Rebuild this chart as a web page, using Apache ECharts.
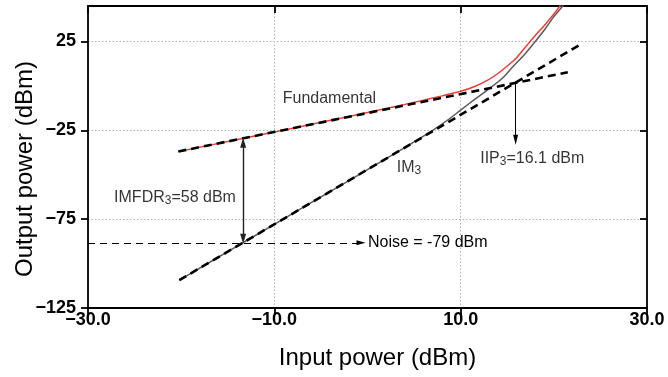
<!DOCTYPE html>
<html><head><meta charset="utf-8">
<script src="https://cdn.jsdelivr.net/npm/echarts@6/dist/echarts.min.js"></script>
<style>html,body{margin:0;padding:0;background:#fff}#c{width:668px;height:377px}</style>
</head><body><div id="c"></div>
<script>
// ---- data ----
const xTicks = [-30, -10, 10, 30];
const yTicks = [-125, -75, -25, 25];
const fundX = [-20.3, -15, -10, -5, 0, 3, 6, 8, 10, 11.5, 13, 14, 15, 16, 17, 18, 19, 20, 21];
const fundY = [-36.9, -31.3, -25.9, -20.5, -15.0, -11.6, -8.0, -5.6, -3.0, -0.3, 3.6, 7.0, 11.2, 15.9, 22.2, 28.4, 34.2, 40.5, 47.5];
const im3X = [-20.2, -15, -10, -5, 0, 3, 5, 7, 8.5, 10, 11.5, 13, 14.5, 15.6, 17, 18, 19, 20, 21, 21.5];
const im3Y = [-109.3, -93.3, -77.9, -62.5, -47.1, -37.8, -31.5, -25.0, -19.6, -13.6, -7.6, -1.8, 4.5, 10.8, 18.6, 25.0, 31.6, 39.0, 45.3, 49.0];
const fundFitX = [-20.3, 21.5];
const fundFitY = [-36.9, 7.7];
const im3FitX = [-20.2, 23.0];
const im3FitY = [-109.3, 23.8];
const noiseLevel = -88.3;
const noiseLineX = [-30, -0.7];
const noiseText = 'Noise = -79 dBm';
const imfdrX = -13.35;
const imfdrY = [-32.0, -86.0];
const iip3X = 15.9;
const iip3Y = [1.7, -30.3];
const annX = [-9.1, 3.15, 12.1, -27.2];
const annY = [-6.8, -45.5, -40.6, -62.1];
const annText = ['{n|Fundamental}', '{n|IM}{s|3}', '{n|IIP}{s|3}{n|=16.1 dBm}', '{n|IMFDR}{s|3}{n|=58 dBm}'];

// ---- chart ----
const FONT = "'Liberation Sans', Arial, sans-serif";
const zip = (xs, ys) => xs.map((x, i) => [x, ys[i]]);
const minus = s => s.replace('-', '\u2212');
const chart = echarts.init(document.getElementById('c'), null, {renderer: 'canvas'});

const axisLineStyle = {color: '#000', width: 1.8};
const gridLine = {show: true, lineStyle: {color: '#b0b0b0', width: 1, type: [1.5, 2]}};

const option = {
  animation: false,
  backgroundColor: '#fff',
  grid: {left: 88, right: 21, top: 6, bottom: 69, containLabel: false, outerBoundsMode: 'none'},
  xAxis: [{
    type: 'value', min: -30, max: 30, position: 'bottom',
    name: 'Input power (dBm)', nameLocation: 'middle', nameGap: 38, nameMoveOverlap: false,
    nameTextStyle: {fontFamily: FONT, fontSize: 24, color: '#000', padding: [0, 0, 0, 20]},
    axisLine: {onZero: false, lineStyle: axisLineStyle},
    axisTick: {inside: false, length: 7, lineStyle: axisLineStyle, customValues: xTicks},
    axisLabel: {customValues: xTicks, margin: 3, fontFamily: FONT, fontSize: 18, fontWeight: 'bold', color: '#000',
      hideOverlap: false, formatter: v => minus(v.toFixed(1))},
    splitLine: gridLine
  }, {
    type: 'value', min: -30, max: 30, position: 'top',
    axisLine: {onZero: false, lineStyle: axisLineStyle},
    axisTick: {inside: true, length: 7, lineStyle: axisLineStyle, customValues: xTicks},
    axisLabel: {show: false},
    splitLine: {show: false}
  }],
  yAxis: [{
    type: 'value', min: -125, max: 45, position: 'left',
    name: 'Output power (dBm)', nameLocation: 'middle', nameGap: 51, nameMoveOverlap: false,
    nameTextStyle: {fontFamily: FONT, fontSize: 24, color: '#000', padding: [0, 24, 0, 0]},
    axisLine: {onZero: false, lineStyle: axisLineStyle},
    axisTick: {inside: false, length: 7, lineStyle: axisLineStyle, customValues: yTicks},
    axisLabel: {customValues: yTicks, margin: 12, fontFamily: FONT, fontSize: 18, fontWeight: 'bold', color: '#000',
      formatter: v => minus(String(v))},
    splitLine: gridLine
  }, {
    type: 'value', min: -125, max: 45, position: 'right',
    axisLine: {onZero: false, lineStyle: axisLineStyle},
    axisTick: {inside: true, length: 7, lineStyle: axisLineStyle, customValues: yTicks},
    axisLabel: {show: false},
    splitLine: {show: false}
  }],
  series: [
    {name: 'Fundamental', type: 'line', data: zip(fundX, fundY), smooth: 0.3, symbol: 'none',
      lineStyle: {color: '#ee3f3a', width: 1.5}, z: 2},
    {name: 'IM3', type: 'line', data: zip(im3X, im3Y), smooth: 0.3, symbol: 'none',
      lineStyle: {color: '#5a5a5a', width: 1.5}, z: 2},
    {name: 'Fundamental fit', type: 'line', data: zip(fundFitX, fundFitY), symbol: 'none',
      lineStyle: {color: '#000', width: 2.6, type: [8, 5]}, z: 3},
    {name: 'IM3 fit', type: 'line', data: zip(im3FitX, im3FitY), symbol: 'none',
      lineStyle: {color: '#000', width: 2.6, type: [8, 5]}, z: 3},
    {name: 'noise', type: 'line', data: [], z: 4,
      markLine: {silent: true, animation: false, symbol: ['none', 'triangle'], symbolSize: [5, 9],
        lineStyle: {color: '#000', width: 1, type: [7, 5]},
        label: {show: true, position: 'end', distance: 7, formatter: noiseText, fontFamily: FONT, fontSize: 16, color: '#000'},
        data: [[{coord: [noiseLineX[0], noiseLevel]}, {coord: [noiseLineX[1], noiseLevel]}]]}},
    {name: 'imfdr', type: 'line', data: [], z: 4,
      markLine: {silent: true, animation: false, symbol: ['triangle', 'triangle'], symbolSize: [6, 10],
        lineStyle: {color: '#222', width: 1.4, type: 'solid'}, label: {show: false},
        data: [[{coord: [imfdrX, imfdrY[0]]}, {coord: [imfdrX, imfdrY[1]]}]]}},
    {name: 'iip3', type: 'line', data: [], z: 4,
      markLine: {silent: true, animation: false, symbol: ['none', 'triangle'], symbolSize: [5, 10],
        lineStyle: {color: '#000', width: 1, type: 'solid'}, label: {show: false},
        data: [[{coord: [iip3X, iip3Y[0]]}, {coord: [iip3X, iip3Y[1]]}]]}},
    {name: 'annotations', type: 'scatter', symbolSize: 0, z: 5, silent: true,
      data: annX.map((x, i) => ({value: [x, annY[i]], label: {formatter: annText[i]}})),
      label: {show: true, position: 'right', distance: 0,
        rich: {
          n: {fontFamily: FONT, fontSize: 16, color: '#000', lineHeight: 18, verticalAlign: 'bottom'},
          s: {fontFamily: FONT, fontSize: 12, color: '#000', lineHeight: 18, verticalAlign: 'top', padding: [7, 0, 0, 0]}
        }}}
  ]
};
chart.setOption(option);
</script>
</body></html>
